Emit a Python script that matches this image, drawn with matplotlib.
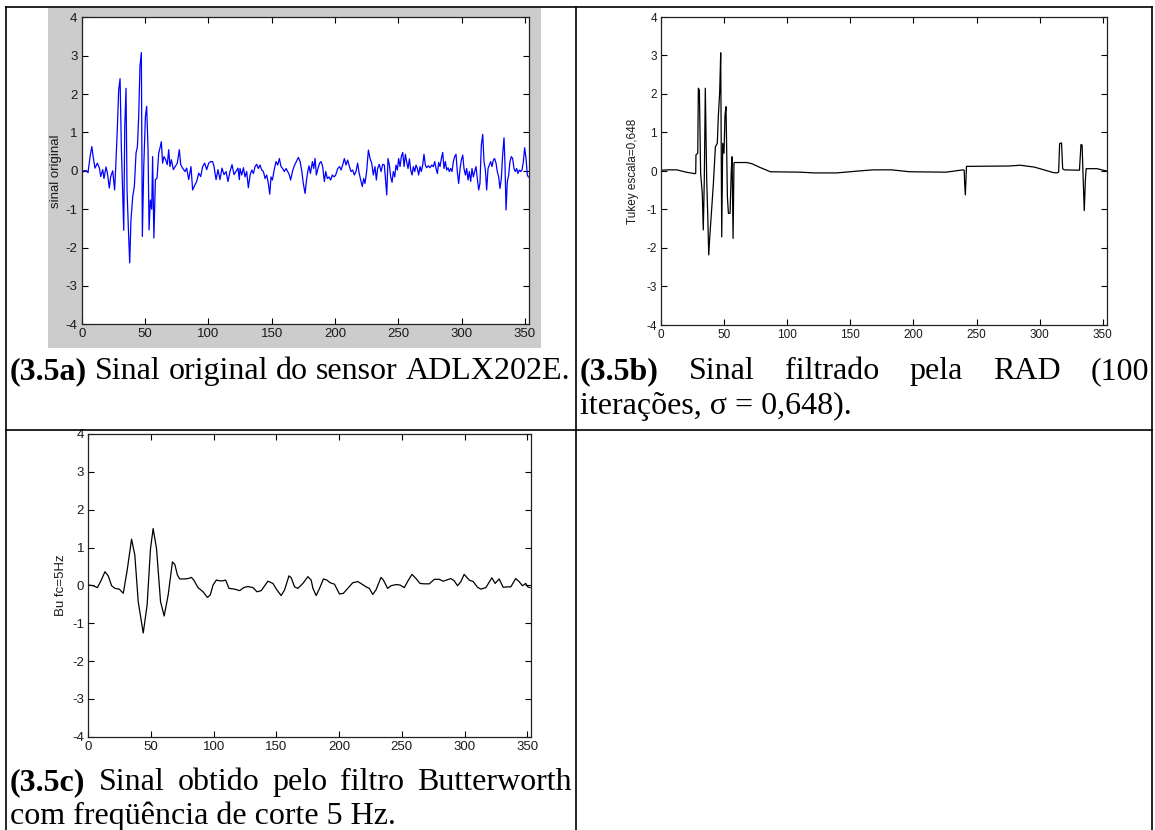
import matplotlib
matplotlib.use("Agg")
import matplotlib.pyplot as plt
from matplotlib.lines import Line2D
from matplotlib.patches import Rectangle

# ---------------------------------------------------------------- data
# (3.5a) raw accelerometer signal (sample index, amplitude)
raw_x = [0, 1.3, 3.9, 5, 6.6, 8, 9.2, 10.5, 12.4, 14, 15, 16.6, 17.6, 19.2, 20.3, 21.8, 22.9, 24.5,
         26, 27, 28.2, 29.2, 30.3, 31.3, 32.4, 33.2, 34, 35, 35.8, 36.8, 37.9, 38.9, 40.3, 41.6,
         42.9, 44, 45, 46, 47.1, 47.9, 49, 50.3, 51.3, 52.4, 53.2, 54.2, 55.3, 56, 57, 58.2, 59.5,
         60.8, 61.8, 62.9, 63.9, 65, 66.3, 67.6, 68.7, 69.7, 70.8, 72.4, 73.9, 75.5, 77.1, 78.2,
         79.7, 81.6, 82.9, 84.5, 86.3, 87.6, 89.5, 90.8, 92.4, 94, 95.5, 97.1, 98.7, 100.3, 101.8,
         103.4, 104.5, 106.1, 107.6, 109.2, 110.8, 112.4, 114, 115.5, 117.1, 118.7, 120.3, 121.8,
         123.4, 124.5,
         125, 126.4, 127.7, 129, 130.3, 131.6, 133, 134.3, 135.6, 136.9, 138.2, 139.5, 140.8, 142.2,
         143.5, 144.8, 146.1, 147.4, 148.5, 149.5, 150.6, 152.2, 153.5, 154.8, 156.1, 157.4, 158.7,
         160, 161.4, 162.7, 164, 165, 166.4, 167.9, 169.5, 171.1, 172.4, 173.7, 175, 176.4, 177.4,
         178.5, 179.5, 180.6, 182.2, 183.2, 184.3, 185.3, 186.6, 187.9, 189, 190.3, 191.6, 192.7,
         194, 195.3, 196.6, 197.9, 199.3, 200.6, 202.2, 203.7, 204.8, 206.1, 207.4, 208.7, 210,
         211.4, 212.7, 214, 215.3, 216.6, 217.9, 218.9, 220.3, 221.6, 222.7, 223.7, 225, 226.4,
         227.7, 229, 230.3, 231.6, 232.7, 233.7, 235, 236.4, 237.7, 239,
         240.9, 241.9, 243, 244, 245.1, 246.1, 247.2, 248.2, 249.3, 250.3, 251.4, 252.4, 253.5,
         254.6, 255.6, 256.7, 257.7, 258.8, 259.8, 260.9, 261.9, 263, 264, 265.1, 266.1, 267.2,
         268.2, 269.3, 270.3, 271.4, 272.4, 273.8, 275.1, 276.4, 277.7, 278.8, 279.8, 280.9, 281.9,
         283, 284, 285.1, 286.1, 287.2, 288.2, 289.3, 290.3, 291.4, 292.4, 293.5, 294.5, 295.6,
         296.6, 297.7, 298.8, 299.8, 300.9, 301.9, 303, 304, 305.1, 306.1, 307.2, 308.2, 309.3,
         310.3, 311.4, 312.4, 313.5, 314.5, 315.6, 316.7, 317.7, 318.8, 319.8, 320.9, 321.9, 323,
         324, 325.1, 326.1, 327.2, 328.2, 329.3, 330.3, 331.4, 332.4, 333.5, 334.3, 335.1, 336.1,
         337.2, 338.2, 339.3, 340.3, 341.4, 342.4, 343.5, 344.5, 345.6, 346.7, 347.7, 348.8, 349.8,
         350.9, 351.9, 352.7]
raw_y = [-0.10, 0.00, 0.00, -0.05, 0.37, 0.63, 0.33, 0.07, 0.20, 0.07, -0.15, 0.03, -0.20, 0.10,
         -0.06, -0.45, -0.15, 0.00, -0.50, 0.20, 1.15, 2.10, 2.40, 0.63, -0.67, -1.55, 1.15, 2.15,
         -0.50, -1.45, -2.40, -1.28, -0.67, -0.40, 0.46, 0.63, 1.41, 2.72, 3.08, -1.71, 0.11, 1.41,
         1.68, 0.55, -1.54, -0.76, -1.00, 0.37, -1.75, -0.23, -0.19, 0.46, 0.59, 0.76, 0.20, 0.37,
         0.29, 0.16, 0.55, 0.11, 0.29, 0.03, 0.11, 0.20, 0.55, 0.16, 0.07, -0.02, 0.07, -0.23, 0.11,
         -0.50, -0.36, -0.28, -0.06, -0.15, 0.11, 0.20, 0.03, 0.20, 0.24, 0.24, 0.11, -0.23, 0.03,
         -0.23, 0.07, -0.10, -0.02, -0.28, -0.02, 0.16, -0.10, -0.02, 0.07, -0.23,
         0.06, -0.11, 0.08, -0.16, -0.02, -0.44, -0.11, 0.02, -0.07, 0.11, 0.17, 0.06, 0.15, 0.02,
         -0.02, -0.20, -0.11, -0.33, -0.61, -0.16, -0.24, 0.06, 0.24, 0.15, 0.32, 0.11, 0.06, -0.02,
         0.06, -0.02, -0.11, -0.24, -0.02, 0.13, 0.24, 0.35, 0.25, 0.02, -0.33, -0.59, -0.28, -0.02,
         0.13, -0.07, 0.24, 0.06, 0.32, -0.11, 0.06, 0.20, 0.24, 0.11, -0.28, -0.02, -0.20, -0.16,
         -0.24, -0.11, -0.16, -0.11, 0.06, 0.11, 0.02, 0.15, 0.32, 0.15, 0.28, 0.11, -0.02, 0.02,
         -0.11, -0.02, 0.20, -0.02, -0.24, -0.41, -0.20, -0.33, -0.02, 0.54, 0.32, 0.20, -0.11, 0.11,
         -0.24, 0.06, 0.17, -0.02, 0.17, 0.15,
         -0.63, 0.32, 0.15, -0.16, -0.30, -0.02, -0.16, 0.15, 0.02, 0.32, 0.11, 0.37, 0.48, 0.11,
         0.43, 0.22, 0.06, 0.31, 0.02, -0.11, 0.11, -0.02, 0.15, 0.06, -0.11, 0.11, -0.02, 0.15,
         0.43, 0.15, 0.08, 0.13, 0.08, 0.15, 0.11, 0.24, 0.06, -0.07, 0.22, 0.11, 0.32, 0.48, 0.06,
         0.24, 0.02, 0.08, -0.02, 0.06, -0.02, 0.24, 0.37, 0.43, -0.02, -0.33, 0.06, 0.28, 0.41,
         0.06, -0.11, 0.06, -0.24, -0.02, -0.28, 0.06, -0.16, -0.02, 0.11, -0.20, -0.50, -0.33,
         0.67, 0.95, 0.24, 0.02, -0.50, 0.06, 0.15, 0.24, 0.11, 0.28, 0.32, 0.20, -0.02, -0.16,
         -0.46, -0.20, 0.41, 0.86, 0.15, -1.02, -0.28, -0.11, 0.24, 0.37, 0.32, 0.06, -0.02, 0.06,
         -0.07, 0.02, -0.02, 0.02, 0.24, 0.60, 0.32, -0.11, -0.16]

# (3.5b) anisotropic-diffusion (Tukey) filtered signal
rad_x = [0, 5.2, 12.5, 19.8, 27, 27.5, 27.7, 29.1, 29.6, 30.4, 31.4, 32.7, 33.5, 34.3, 35.1, 36.2,
         37, 37.8, 38.8, 40.1, 41.5, 43.1, 44.6, 45.4, 46.5, 47.3, 48.1, 48.9, 49.9, 50.7, 51.5,
         52.6, 53.4, 54.7, 55.7, 56.3, 57.1, 57.8, 58.1, 67.9, 72, 77.9, 86.7, 110, 121.5, 139,
         156.5, 168, 182.6, 197, 226, 239.3, 240.2, 240.5, 241.1, 242, 275.8, 284.5, 296, 310.6,
         313.5, 315, 315.8, 317.3, 318.2, 319.4, 331.5, 332.7, 333.6, 334.4, 335.3, 336.2, 336.8,
         345.4, 353]
rad_y = [0.02, 0.03, 0.03, -0.03, -0.07, -0.06, 0.42, 0.46, 2.15, 2.10, -0.06, -0.58, -1.53, -0.23,
         2.15, -0.23, -1.10, -2.18, -1.62, -1.01, -0.32, 0.63, 0.72, 1.41, 2.06, 3.07, -1.71, 0.72,
         0.46, 1.45, 1.67, -0.67, -1.10, -1.10, 0.03, 0.37, -1.75, 0.20, 0.22, 0.22, 0.19, 0.10,
         -0.02, -0.03, -0.05, -0.05, 0.00, 0.03, 0.03, -0.02, -0.03, 0.03, 0.02, -0.29, -0.62, 0.12,
         0.13, 0.15, 0.10, -0.04, -0.05, -0.03, 0.71, 0.73, 0.06, 0.03, 0.02, 0.69, 0.67, -0.16,
         -1.03, -0.24, 0.06, 0.06, 0.00]

# (3.5c) Butterworth low-pass output, fc = 5 Hz
bw_x = [0, 4, 7.2, 9.8, 13.3, 15.9, 18.6, 21.2, 24.7, 27.9, 31, 34.5, 37.1, 39.8, 43.8, 46.9, 49.6,
        51.7, 54.4, 57.6, 60.5, 63.7, 67.1, 69, 71.1, 72.9, 76.9, 79.6, 82.2, 84.1, 87.5, 91.5, 95,
        97.3, 99.5, 102.1, 104.8, 107.4, 109.5, 112.2, 116.7, 120.7, 123.9, 127.3, 131.3, 134.5,
        137.9, 143.2, 147.2, 150.4, 153.8, 156.5, 160, 161.8, 164.5, 167.1, 171.1, 175.1, 177.7,
        179.1, 181.7, 184.4, 187.5, 190.2, 192.8, 196.3, 200.3, 203.4, 206.9, 210.9, 214.9, 218.3,
        221.5, 224.1, 226.8, 229.4, 233.4, 235.3, 238.7, 241.4, 245.4, 248.5, 252, 254.6, 258.1,
        261.3, 264.5, 267.9, 271.9, 275.9, 279.8, 283, 285.7, 289.1, 291.8, 294.4, 297.1, 299.7,
        303.7, 306.9, 310.3, 313, 317, 321.8, 324.4, 327.6, 330.8, 334.2, 336.9, 340.8, 343.5,
        346.2, 348.8, 350.4, 352.2]
bw_y = [0.01, -0.01, -0.06, 0.10, 0.36, 0.25, -0.01, -0.08, -0.10, -0.21, 0.40, 1.22, 0.80, -0.43,
        -1.26, -0.52, 0.97, 1.50, 0.97, -0.43, -0.81, -0.25, 0.62, 0.55, 0.27, 0.17, 0.17, 0.18,
        0.21, 0.14, -0.06, -0.17, -0.32, -0.25, 0.01, 0.14, 0.12, 0.12, 0.14, -0.08, -0.10, -0.14,
        -0.06, -0.03, -0.06, -0.17, -0.14, 0.11, 0.05, -0.12, -0.27, -0.12, 0.25, 0.20, -0.04,
        -0.08, 0.05, 0.23, 0.14, -0.08, -0.27, -0.08, 0.17, 0.14, 0.07, 0.03, -0.23, -0.21, -0.08,
        0.07, 0.10, 0.03, -0.04, -0.08, -0.24, -0.12, 0.21, 0.14, -0.08, -0.01, 0.02, 0.01, -0.06,
        0.10, 0.29, 0.18, 0.05, 0.04, 0.04, 0.16, 0.16, 0.11, 0.14, 0.18, 0.12, -0.01, 0.10, 0.29,
        0.14, 0.10, -0.05, -0.10, -0.06, 0.20, 0.05, 0.17, -0.05, -0.04, -0.04, 0.18, 0.10, -0.01,
        0.05, -0.04, -0.06]

x_ticks = [0, 50, 100, 150, 200, 250, 300, 350]
y_ticks = [-4, -3, -2, -1, 0, 1, 2, 3, 4]

ylabels = ["sinal original", "Tukey escala=0,648", "Bu fc=5Hz"]

# ---------------------------------------------------------------- layout
W, H = 1155, 830
plt.rcParams['font.family'] = 'Liberation Sans'
plt.rcParams['axes.unicode_minus'] = False
fig = plt.figure(figsize=(W / 100, H / 100), dpi=100)


def fx(x):
    return x / W


def fy(y):
    return 1 - y / H


def box(l, t, r, b):
    return [l / W, 1 - b / H, (r - l) / W, (b - t) / H]


# table rules
rules = [(6, 7, 1152, 7), (6, 430, 1152, 430),
         (6, 7, 6, 830), (576, 7, 576, 830), (1152, 7, 1152, 830)]
for x0, y0, x1, y1 in rules:
    fig.add_artist(Line2D([fx(x0), fx(x1)], [fy(y0), fy(y1)], transform=fig.transFigure,
                          color='black', lw=1.2, solid_capstyle='projecting'))

# grey window behind the first plot
fig.add_artist(Rectangle((fx(48), fy(348)), (541 - 48) / W, (348 - 8.5) / H,
                         transform=fig.transFigure, facecolor='#cccccc',
                         edgecolor='none', zorder=-1))


def matlab_axes(rect, xs, ys, color, label, fsize, label_x):
    ax = fig.add_axes(box(*rect))
    ax.plot(xs, ys, color=color, lw=0.9)
    ax.set_xlim(0, 353)
    ax.set_ylim(-4, 4)
    ax.set_xticks(x_ticks)
    ax.set_yticks(y_ticks)
    ax.tick_params(direction='in', top=True, right=True, length=4, width=0.8,
                   labelsize=fsize, pad=3, labelcolor='#1a1a1a')
    for s in ax.spines.values():
        s.set_linewidth(0.9)
        s.set_color('#222222')
    ax.set_ylabel(label, fontsize=fsize, color='#1a1a1a')
    ax.yaxis.set_label_coords(label_x, 0.5)
    return ax


matlab_axes((81.7, 17.3, 528.7, 324.3), raw_x, raw_y, '#0000ff', ylabels[0], 9.5, -0.045)
matlab_axes((661, 17, 1106.6, 325), rad_x, rad_y, 'black', ylabels[1], 8.5, -0.05)
matlab_axes((88.3, 434, 531, 736.7), bw_x, bw_y, 'black', ylabels[2], 9.5, -0.047)

# ---------------------------------------------------------------- captions
CAP_FONT = 'Liberation Serif'
CAP_SIZE = 23
renderer = fig.canvas.get_renderer()


def justified(words, x0, x1, baseline):
    texts = []
    for i, w in enumerate(words):
        t = fig.text(0, fy(baseline), w, fontsize=CAP_SIZE, family=CAP_FONT,
                     fontweight='bold' if i == 0 else 'normal', va='baseline', ha='left')
        texts.append(t)
    widths = [t.get_window_extent(renderer).width for t in texts]
    gap = (x1 - x0 - sum(widths)) / (len(words) - 1)
    x = x0
    for t, w in zip(texts, widths):
        t.set_x(fx(x))
        x += w + gap


def plain(text, x0, baseline):
    fig.text(fx(x0), fy(baseline), text, fontsize=CAP_SIZE, family=CAP_FONT,
             va='baseline', ha='left')


justified(["(3.5a)", "Sinal", "original", "do", "sensor", "ADLX202E."], 10, 570, 379)
justified(["(3.5b)", "Sinal", "filtrado", "pela", "RAD", "(100"], 580, 1149, 379)
plain("iterações, σ = 0,648).", 580, 414)
justified(["(3.5c)", "Sinal", "obtido", "pelo", "filtro", "Butterworth"], 10, 572, 790)
plain("com freqüência de corte 5 Hz.", 10, 824)

fig.savefig("out.png", dpi=100, facecolor='white')
